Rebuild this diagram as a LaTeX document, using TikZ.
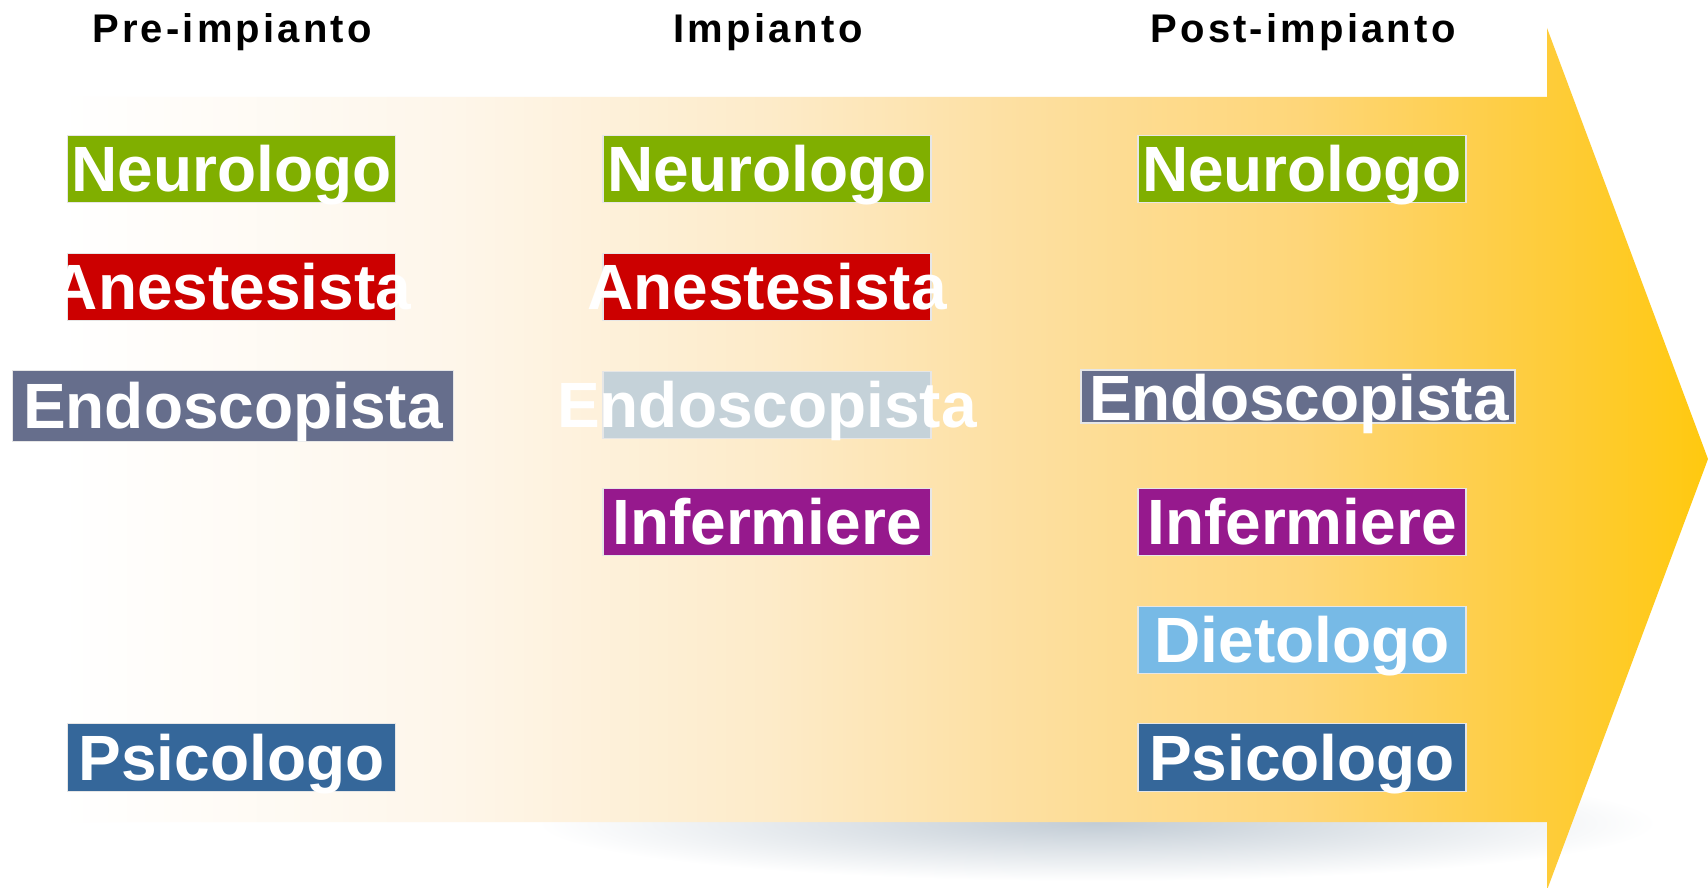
\documentclass[tikz,border=0pt]{standalone}
\usepackage{fontspec}
\setmainfont{Liberation Sans}
\definecolor{cgreen}{HTML}{80AF00}
\definecolor{cred}{HTML}{CC0000}
\definecolor{cslate}{HTML}{666E8C}
\definecolor{clight}{HTML}{C5D2D9}
\definecolor{cpurple}{HTML}{96198D}
\definecolor{csky}{HTML}{77BAE6}
\definecolor{cblue}{HTML}{35679A}
\definecolor{boxborder}{HTML}{E6E6E6}
\definecolor{shadowgray}{HTML}{C2CCD5}
\definecolor{ga}{HTML}{FEF6EA}
\definecolor{gb}{HTML}{FDEBC9}
\definecolor{gc}{HTML}{FDE0A3}
\definecolor{gd}{HTML}{FED679}
\definecolor{ge}{HTML}{FECC3A}
\definecolor{gf}{HTML}{FFC90F}
\pgfdeclarehorizontalshading{arrowshade}{100bp}{color(0bp)=(white); color(25bp)=(white); color(26.8bp)=(white); color(38.2bp)=(ga); color(47.5bp)=(gb); color(54.3bp)=(gc); color(63.1bp)=(gd); color(70.3bp)=(ge); color(75bp)=(gf); color(100bp)=(gf)}
\tikzset{
  rolebox/.style={draw=boxborder, line width=1.2pt, minimum width=328pt, minimum height=67.5pt, inner sep=0pt, outer sep=0pt},
  roletext/.style={text=white, font=\fontsize{64}{64}\selectfont\bfseries, text height=45.8pt, text depth=0pt, inner sep=0pt},
  header/.style={text=black, font=\fontsize{40}{40}\selectfont\bfseries\addfontfeature{LetterSpace=8}, text height=28.6pt, text depth=0pt, inner sep=0pt}
}
\begin{document}
\begin{tikzpicture}[x=1pt,y=-1pt]
\useasboundingbox (0,0) rectangle (1708,888);
\fill[white] (0,0) rectangle (1708,888);
% shadow
\shade[inner color=shadowgray, outer color=white] (1097,823) ellipse [x radius=560, y radius=58];
% arrow
\shade[shading=arrowshade] (0,97) -- (1547,97) -- (1547,28) -- (1708,459) -- (1547,890) -- (1547,822) -- (0,822) -- cycle;
% headers
\node[header] (h1) at (232,28) {Pre-impianto};
\node[header] (h2) at (768,28) {Impianto};
\node[header] (h3) at (1303,28) {Post-impianto};
% column 1
\node[rolebox, fill=cgreen] (a1) at (231.5,169) {};
\node[rolebox, fill=cred] (a2) at (231.5,287) {};
\node[rolebox, fill=cslate, minimum width=441pt, minimum height=71pt] (a3) at (233,406) {};
\node[rolebox, fill=cblue] (a6) at (231.5,757.5) {};
\node[roletext] (a1t) at (a1) {Neurologo};
\node[roletext] (a2t) at (a2) {Anestesista};
\node[roletext] (a3t) at (a3) {Endoscopista};
\node[roletext] (a6t) at (a6) {Psicologo};
% column 2
\node[rolebox, fill=cgreen] (b1) at (767,169) {};
\node[rolebox, fill=cred] (b2) at (767,287) {};
\node[rolebox, fill=clight] (b3) at (767,405) {};
\node[rolebox, fill=cpurple] (b4) at (767,522) {};
\node[roletext] (b1t) at (b1) {Neurologo};
\node[roletext] (b2t) at (b2) {Anestesista};
\node[roletext] (b3t) at (b3) {Endoscopista};
\node[roletext] (b4t) at (b4) {Infermiere};
% column 3
\node[rolebox, fill=cgreen] (c1) at (1302,169) {};
\node[rolebox, fill=cslate, minimum width=434pt, minimum height=53pt] (c3) at (1298,396.5) {};
\node[rolebox, fill=cpurple] (c4) at (1302,522) {};
\node[rolebox, fill=csky] (c5) at (1302,640) {};
\node[rolebox, fill=cblue] (c6) at (1302,757.5) {};
\node[roletext] (c1t) at (c1) {Neurologo};
\node[roletext] (c3t) at (1299,397.5) {Endoscopista};
\node[roletext] (c4t) at (c4) {Infermiere};
\node[roletext] (c5t) at (c5) {Dietologo};
\node[roletext] (c6t) at (c6) {Psicologo};
\end{tikzpicture}
\end{document}
